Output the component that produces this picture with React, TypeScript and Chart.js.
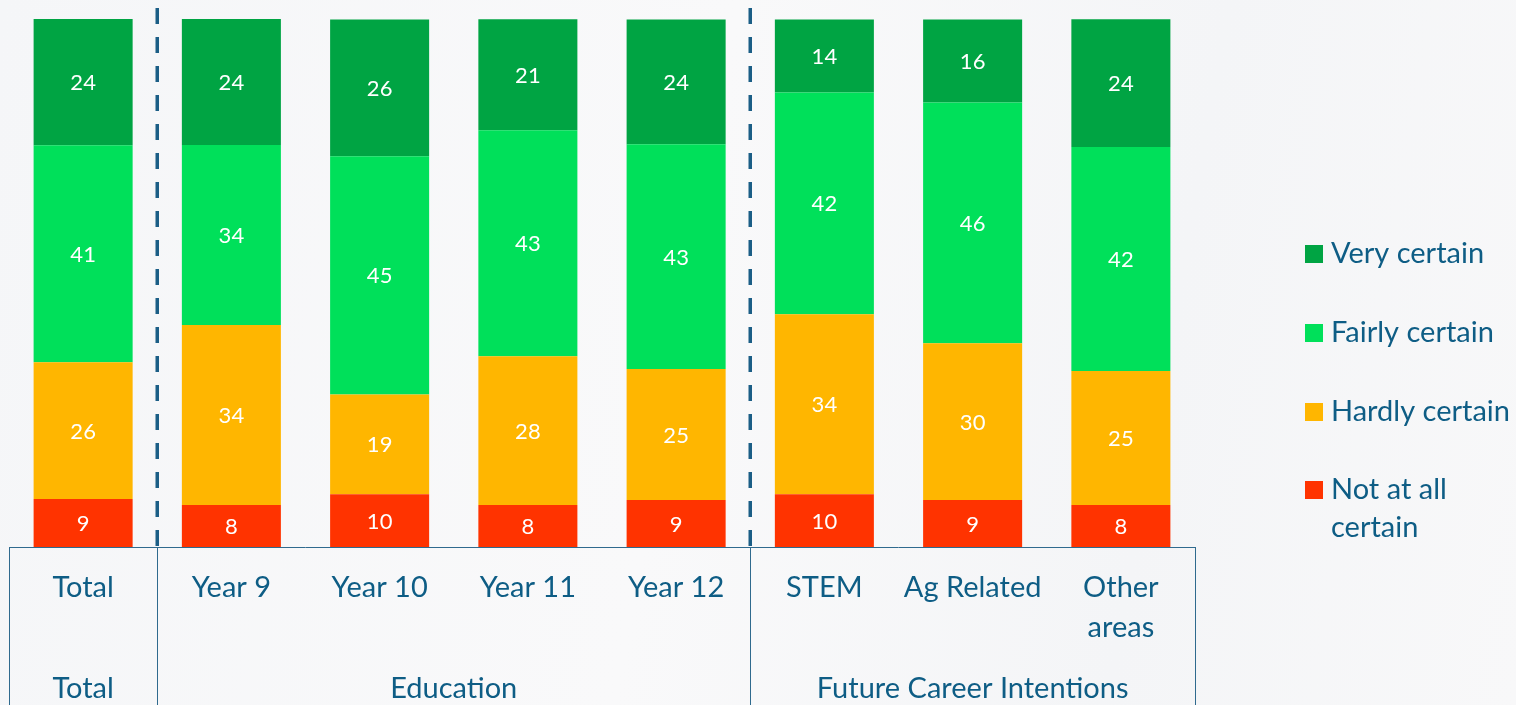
import React, { useEffect, useRef } from "react";
import { Chart, registerables } from "chart.js";

Chart.register(...registerables);

const categories: (string | string[])[] = [
  "Total",
  "Year 9",
  "Year 10",
  "Year 11",
  "Year 12",
  "STEM",
  "Ag Related",
  ["Other", "areas"],
];

const groupLabels = ["Total", "Education", "Future Career Intentions"];
const groupStarts = [0, 1, 5];
const groupEnds = [0, 4, 7];

const seriesNames = ["Not at all certain", "Hardly certain", "Fairly certain", "Very certain"];
const legendLines = [["Not at all", "certain"], ["Hardly certain"], ["Fairly certain"], ["Very certain"]];
const seriesColors = ["#FF3300", "#FFB600", "#00E05A", "#00A443"];

const notAtAll = [9.1, 7.95, 10.0, 7.95, 8.9, 10.0, 8.9, 7.95];
const hardly = [25.9, 34.1, 18.9, 28.2, 24.8, 34.1, 29.7, 25.4];
const fairly = [41.1, 34.1, 45.1, 42.8, 42.6, 42.0, 45.6, 42.4];
const very = [23.9, 23.9, 25.9, 21.0, 23.6, 13.8, 15.7, 24.2];

const seriesValues = [notAtAll, hardly, fairly, very];

const TEXT = "#0E5D85";
const LINE = "#2F6A8E";
const FONT = "Lato, 'Open Sans', sans-serif";

const overlayPlugin = {
  id: "overlay",
  afterDatasetsDraw(chart: any) {
    const ctx = chart.ctx as CanvasRenderingContext2D;
    const x = chart.scales.x;
    const area = chart.chartArea;
    const n = categories.length;
    const step = x.getPixelForValue(1) - x.getPixelForValue(0);
    const left = x.getPixelForValue(0) - step / 2;
    const right = x.getPixelForValue(n - 1) + step / 2;
    const H = chart.height;

    // data labels
    ctx.save();
    ctx.fillStyle = "#FFFFFF";
    ctx.font = `22px ${FONT}`;
    ctx.textAlign = "center";
    ctx.textBaseline = "middle";
    chart.data.datasets.forEach((ds: any, di: number) => {
      const meta = chart.getDatasetMeta(di);
      meta.data.forEach((el: any, i: number) => {
        const v = ds.data[i];
        ctx.fillText(String(Math.round(v)), el.x, (el.y + el.base) / 2 + 1);
      });
    });
    ctx.restore();

    // box lines
    ctx.save();
    ctx.strokeStyle = LINE;
    ctx.lineWidth = 1;
    ctx.beginPath();
    ctx.moveTo(left, area.bottom + 0.5);
    ctx.lineTo(right, area.bottom + 0.5);
    ctx.stroke();
    const bounds: number[] = [left];
    for (let g = 1; g < groupStarts.length; g++) {
      bounds.push((x.getPixelForValue(groupStarts[g] - 1) + x.getPixelForValue(groupStarts[g])) / 2);
    }
    bounds.push(right);
    bounds.forEach((b) => {
      ctx.beginPath();
      ctx.moveTo(Math.round(b) + 0.5, area.bottom);
      ctx.lineTo(Math.round(b) + 0.5, H);
      ctx.stroke();
    });
    ctx.restore();

    // dashed separators
    ctx.save();
    ctx.strokeStyle = "#1B5E86";
    ctx.lineWidth = 3.5;
    ctx.setLineDash([16, 13]);
    for (let g = 1; g < groupStarts.length; g++) {
      const b = bounds[g];
      ctx.beginPath();
      ctx.moveTo(b, 8);
      ctx.lineTo(b, area.bottom);
      ctx.stroke();
    }
    ctx.restore();

    // category labels
    ctx.save();
    ctx.fillStyle = TEXT;
    ctx.font = `29px ${FONT}`;
    ctx.textAlign = "center";
    ctx.textBaseline = "middle";
    categories.forEach((c, i) => {
      const lines = Array.isArray(c) ? c : [c];
      lines.forEach((l, li) => {
        ctx.fillText(l, x.getPixelForValue(i), 588 + li * 40);
      });
    });
    groupLabels.forEach((g, gi) => {
      const cx = (bounds[gi] + bounds[gi + 1]) / 2;
      const cxx = groupStarts[gi] === groupEnds[gi] ? x.getPixelForValue(groupStarts[gi]) : cx;
      ctx.fillText(g, cxx, 689);
    });
    ctx.restore();

    // legend
    ctx.save();
    ctx.font = `29px ${FONT}`;
    ctx.textAlign = "left";
    ctx.textBaseline = "middle";
    const order = [3, 2, 1, 0];
    const rowsY = [254, 333, 412, 490];
    order.forEach((si, r) => {
      const y = rowsY[r];
      ctx.fillStyle = seriesColors[si];
      ctx.fillRect(1305, y - 9, 18, 18);
      ctx.fillStyle = TEXT;
      legendLines[si].forEach((l, li) => {
        ctx.fillText(l, 1331, y + li * 38);
      });
    });
    ctx.restore();
  },
};

export default function App() {
  const ref = useRef<HTMLCanvasElement | null>(null);

  useEffect(() => {
    document.body.style.margin = "0";
    const canvas = ref.current;
    if (!canvas) return;
    const chart = new Chart(canvas, {
      type: "bar",
      data: {
        labels: categories.map((c) => (Array.isArray(c) ? c.join(" ") : c)),
        datasets: seriesValues.map((vals, i) => ({
          label: seriesNames[i],
          data: vals,
          backgroundColor: seriesColors[i],
          borderWidth: 0,
          barPercentage: 0.668,
          categoryPercentage: 1,
        })),
      },
      options: {
        animation: false,
        responsive: false,
        maintainAspectRatio: false,
        devicePixelRatio: 1,
        layout: { padding: { left: 9, right: 321, top: 19, bottom: 158 } },
        plugins: {
          legend: { display: false },
          tooltip: { enabled: false },
        },
        scales: {
          x: { stacked: true, display: false },
          y: { stacked: true, display: false, min: 0, max: 100 },
        },
      },
      plugins: [overlayPlugin],
    });
    let alive = true;
    if ((document as any).fonts && (document as any).fonts.load) {
      Promise.all([
        (document as any).fonts.load(`29px Lato`),
        (document as any).fonts.load(`22px Lato`),
      ])
        .then(() => {
          if (alive) chart.update();
        })
        .catch(() => {});
    }
    return () => {
      alive = false;
      chart.destroy();
    };
  }, []);

  return (
    <div
      style={{
        width: 1516,
        height: 705,
        position: "relative",
        overflow: "hidden",
        background: "linear-gradient(100deg, #F5F6F8 0%, #F9F9FA 45%, #F4F5F7 75%, #F8F8F9 100%)",
      }}
    >
      <canvas ref={ref} width={1516} height={705} style={{ display: "block", width: 1516, height: 705 }} />
    </div>
  );
}
